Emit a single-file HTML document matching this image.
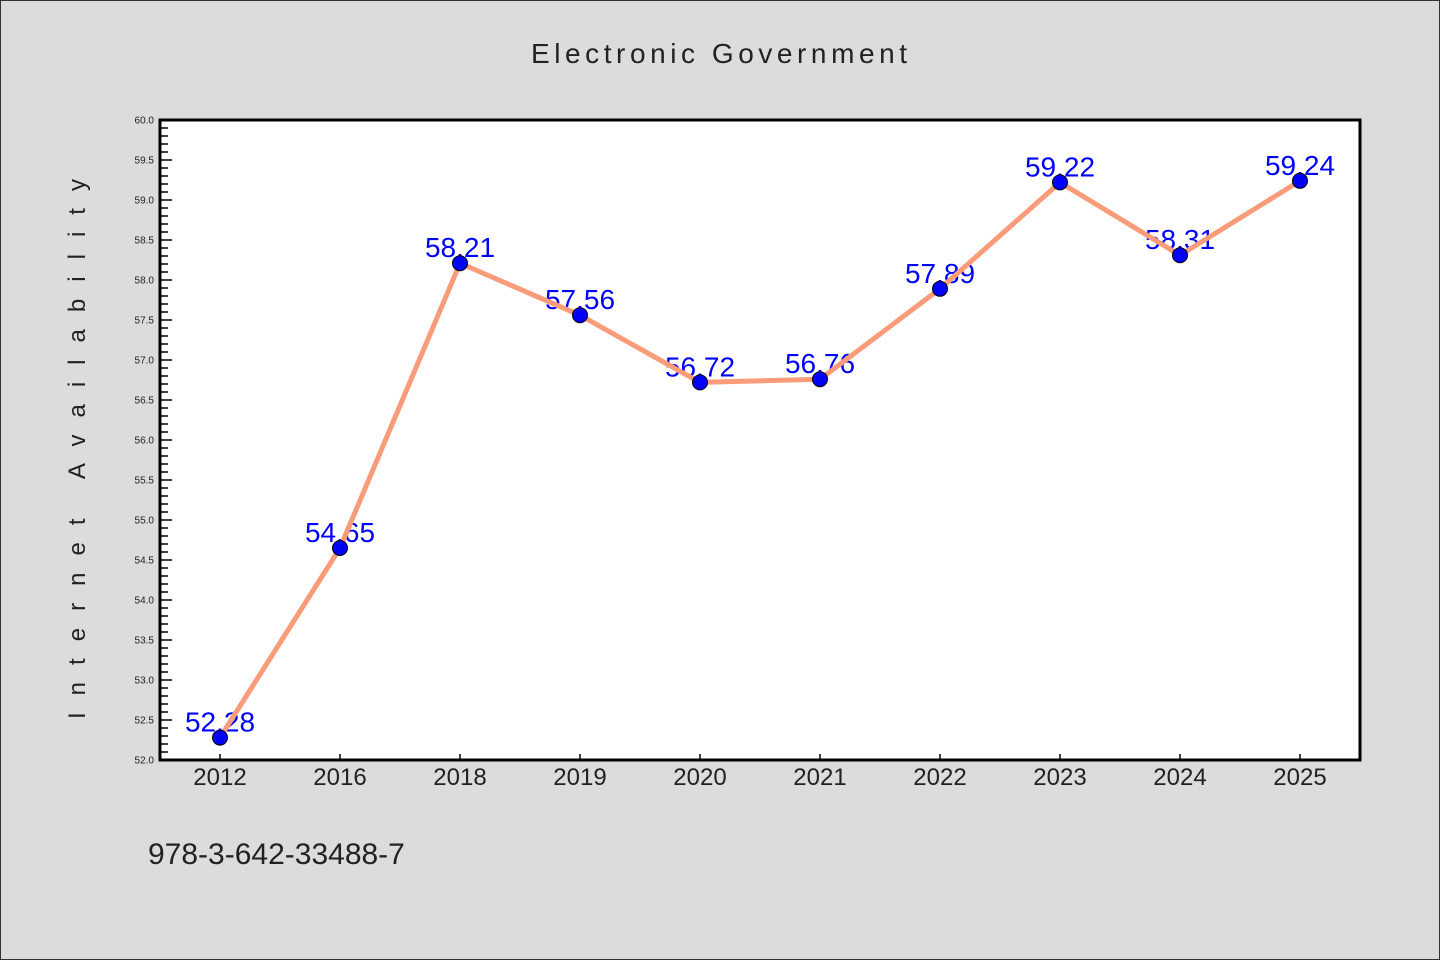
<!DOCTYPE html>
<html><head><meta charset="utf-8"><style>
html,body{margin:0;padding:0;background:#dcdcdc;}
svg{display:block;}
text{font-family:"WenQuanYi Zen Hei","Liberation Sans",sans-serif;}
</style></head><body>
<svg id="chart" width="1440" height="960" xmlns="http://www.w3.org/2000/svg">
<rect x="0.5" y="0.5" width="1439" height="959" fill="#dcdcdc" stroke="#333" stroke-width="1"/>
<text x="719" y="63" text-anchor="middle" font-size="28" fill="#222" textLength="376" lengthAdjust="spacing">Electronic Government</text>
<text transform="translate(85,449) rotate(-90)" text-anchor="middle" font-size="24" fill="#222" textLength="540" lengthAdjust="spacing">Internet Availability</text>
<text x="148" y="864" font-size="30" fill="#222">978-3-642-33488-7</text>
<rect x="160" y="120" width="1200" height="640" fill="#fff"/>
<g id="yaxis"></g><g id="xaxis"></g><g id="series"></g>
<rect x="160" y="120" width="1200" height="640" fill="none" stroke="#000" stroke-width="3"/>
</svg>
<script>
const categories = ["2012","2016","2018","2019","2020","2021","2022","2023","2024","2025"];
const values = [52.28,54.65,58.21,57.56,56.72,56.76,57.89,59.22,58.31,59.24];
const yTicks = ["52.0","52.5","53.0","53.5","54.0","54.5","55.0","55.5","56.0","56.5","57.0","57.5","58.0","58.5","59.0","59.5","60.0"];
const NS="http://www.w3.org/2000/svg";
const L=160,T=120,W=1200,H=640,yMin=52,yMax=60;
const x=i=>L+W/categories.length*(i+0.5);
const y=v=>T+H-(v-yMin)/(yMax-yMin)*H;
function mk(tag,attrs,parent){const e=document.createElementNS(NS,tag);for(const k in attrs)e.setAttribute(k,attrs[k]);parent.appendChild(e);return e;}
const ya=document.getElementById('yaxis'),xa=document.getElementById('xaxis'),se=document.getElementById('series');
for(let k=0;k<=80;k++){const v=yMin+k*0.1;const major=k%5===0;
 const t=mk('line',{x1:L,x2:L+(major?12:8),y1:y(v),y2:y(v),stroke:'#000','stroke-width':1.5},ya);
 
 }
yTicks.forEach(s=>{const t=mk('text',{x:L-6,y:y(parseFloat(s))+3.5,'text-anchor':'end','font-size':10,fill:'#222'},ya);t.textContent=s;
 
 });
categories.forEach((c,i)=>{const t=mk('line',{x1:x(i),x2:x(i),y1:T+H,y2:T+H-6,stroke:'#000','stroke-width':1.5},xa);
 
 
 const tx=mk('text',{x:x(i),y:T+H+25,'text-anchor':'middle','font-size':24,fill:'#222'},xa);tx.textContent=c;
 
 });
values.forEach((v,i)=>{const t=mk('text',{x:x(i),y:y(v)-6,'text-anchor':'middle','font-size':28,fill:'#0000ff'},se);t.textContent=v.toFixed(2);
 
 });
const line=mk('polyline',{points:values.map((v,i)=>x(i)+','+y(v)).join(' '),fill:'none',stroke:'#fa9b7a','stroke-width':5,'stroke-linejoin':'round'},se);


values.forEach((v,i)=>{const c=mk('circle',{cx:x(i),cy:y(v),r:7.5,fill:'#0000ff',stroke:'#000','stroke-width':1},se);
 
 });
</script>
</body></html>
